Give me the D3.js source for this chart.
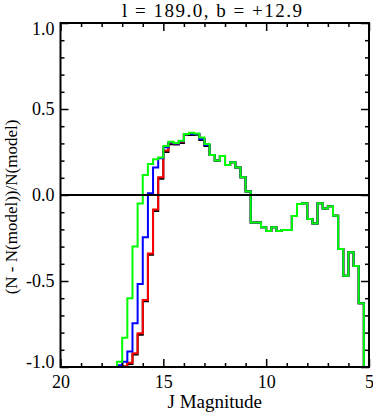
<!DOCTYPE html>
<html>
<head>
<meta charset="utf-8">
<script src="https://cdn.jsdelivr.net/npm/d3@7"></script>
<style>
    body { margin: 0; background: #fff; }
    svg { display: block; }
    text { font-family: "Liberation Serif", "DejaVu Serif", serif; fill: #000; }
</style>
</head>
<body>
<svg id="chart" width="373" height="414"></svg>
<script>
// bins are 0.25 mag wide, running from J = 20 down to J = 5
const bin_start = 20
const bin_width = 0.25
const bin_count = 60

// (N - N(model))/N(model), one value per bin, bright end last
const green_vals = [
    -1, -1, -1, -1, -1, -1, -1, -1, -1, -1, -1,
    -0.97, -0.83, -0.60, -0.30, -0.05,
    0.116, 0.18, 0.208, 0.218, 0.285, 0.31, 0.302, 0.316,
    0.355, 0.362, 0.358, 0.334, 0.296, 0.233, 0.200, 0.227,
    0.174, 0.19, 0.16, 0.103, 0.02,
    -0.16, -0.16, -0.188, -0.21, -0.188, -0.21, -0.203, -0.203,
    -0.122, -0.052, -0.048, -0.14, -0.165, -0.048, -0.078, -0.065, -0.12,
    -0.314, -0.47, -0.333, -0.413, -0.63, -1.0
]
const red_vals = [
    -1, -1, -1, -1, -1, -1, -1, -1, -1, -1, -1,
    -0.995, -0.995, -0.975, -0.92, -0.804,
    -0.61, -0.34, -0.085, 0.103, 0.258, 0.302, 0.30, 0.31,
    0.355, 0.355, 0.355, 0.326, 0.29, 0.233, 0.200, 0.227,
    0.174, 0.19, 0.16, 0.103, 0.02,
    -0.16, -0.16, -0.188, -0.21, -0.188, -0.21, -0.203, -0.203,
    -0.122, -0.052, -0.048, -0.14, -0.165, -0.048, -0.078, -0.065, -0.12,
    -0.314, -0.47, -0.333, -0.413, -0.63, -1.0
]
const black_vals = [
    -1, -1, -1, -1, -1, -1, -1, -1, -1, -1, -1,
    -1, -1, -0.983, -0.928, -0.812,
    -0.618, -0.348, -0.093, 0.095, 0.25, 0.295, 0.293, 0.303,
    0.35, 0.349, 0.35, 0.32, 0.285, 0.233, 0.200, 0.227,
    0.174, 0.19, 0.16, 0.103, 0.02,
    -0.16, -0.16, -0.188, -0.21, -0.188, -0.21, -0.203, -0.203,
    -0.122, -0.052, -0.048, -0.14, -0.165, -0.048, -0.078, -0.065, -0.12,
    -0.314, -0.47, -0.333, -0.413, -0.63, -1.0
]
const blue_vals = [
    -1, -1, -1, -1, -1, -1, -1, -1, -1, -1, -1,
    -0.99, -0.97, -0.91, -0.746, -0.517,
    -0.246, 0.01, 0.16, 0.213, 0.278, 0.305, 0.30, 0.313,
    0.355, 0.355, 0.355, 0.326, 0.29, 0.233, 0.200, 0.227,
    0.174, 0.19, 0.16, 0.103, 0.02,
    -0.16, -0.16, -0.188, -0.21, -0.188, -0.21, -0.203, -0.203,
    -0.122, -0.052, -0.048, -0.14, -0.165, -0.048, -0.078, -0.065, -0.12,
    -0.314, -0.47, -0.333, -0.413, -0.63, -1.0
]

// drawn in this order, last on top
const series = [
    {name: "black", color: "#000000", vals: black_vals},
    {name: "red",   color: "#ff0000", vals: red_vals},
    {name: "blue",  color: "#0000ff", vals: blue_vals},
    {name: "green", color: "#00ff00", vals: green_vals},
]

const title_text = "l = 189.0, b = +12.9"
const x_label = "J Magnitude"
const y_label = "(N - N(model))/N(model)"
const x_major = [20, 15, 10, 5]
const y_major = [-1.0, -0.5, 0.0, 0.5, 1.0]

// layout
const svg = d3.select("#chart")
const box = {left: 60.5, right: 369, top: 23, bottom: 367}

const x = d3.scaleLinear().domain([20, 5]).range([box.left, box.right])
const y = d3.scaleLinear().domain([-1, 1]).range([box.bottom, box.top])

const x_minor = d3.range(19, 5, -1).filter(v => !x_major.includes(v))
const y_minor = d3.range(-9, 10).map(v => v / 10).filter(v => Math.abs(v * 2 - Math.round(v * 2)) > 1e-6)

// bin edges (left edge of each bin plus the closing edge)
const edges = d3.range(bin_count + 1).map(i => bin_start - i * bin_width)

function step_points(vals) {
    let pts = vals.map((v, i) => [edges[i], v])
    pts.push([edges[bin_count], vals[bin_count - 1]])
    return pts
}

const line = d3.line()
    .x(d => x(d[0]))
    .y(d => y(d[1]))
    .curve(d3.curveStepAfter)

// histograms
const plot = svg.append("g").attr("class", "hists")
series.forEach(s => {
    plot.append("path")
        .attr("d", line(step_points(s.vals)))
        .attr("fill", "none")
        .attr("stroke", s.color)
        .attr("stroke-width", 2)
        .attr("stroke-linejoin", "miter")
})

// zero line
svg.append("line")
    .attr("x1", box.left).attr("x2", box.right)
    .attr("y1", y(0)).attr("y2", y(0))
    .attr("stroke", "#000").attr("stroke-width", 2)

// axes: ticks point inward on all four sides
function style_axis(g) {
    g.select(".domain").remove()
    g.selectAll(".tick line").attr("stroke", "#000").attr("stroke-width", 1.5)
    g.selectAll("text").attr("font-size", 18).attr("fill", "#000")
        .attr("font-family", "Liberation Serif, DejaVu Serif, serif")
}

const axes = [
    [d3.axisBottom(x).tickValues(x_major).tickFormat(d3.format("d")).tickSize(-8).tickPadding(8), `translate(0,${box.bottom})`],
    [d3.axisBottom(x).tickValues(x_minor).tickFormat("").tickSize(-4), `translate(0,${box.bottom})`],
    [d3.axisTop(x).tickValues(x_major).tickFormat("").tickSize(-8), `translate(0,${box.top})`],
    [d3.axisTop(x).tickValues(x_minor).tickFormat("").tickSize(-4), `translate(0,${box.top})`],
    [d3.axisLeft(y).tickValues(y_major).tickFormat(d3.format(".1f")).tickSize(-8).tickPadding(6), `translate(${box.left},0)`],
    [d3.axisLeft(y).tickValues(y_minor).tickFormat("").tickSize(-4), `translate(${box.left},0)`],
    [d3.axisRight(y).tickValues(y_major).tickFormat("").tickSize(-8), `translate(${box.right},0)`],
    [d3.axisRight(y).tickValues(y_minor).tickFormat("").tickSize(-4), `translate(${box.right},0)`],
]
axes.forEach(([ax, tr]) => {
    svg.append("g").attr("transform", tr).call(ax).call(style_axis)
})

// hyphen instead of unicode minus, like the original;
// end labels sit a little inside the frame
svg.selectAll(".tick text").each(function(d) {
    let t = d3.select(this)
    t.text(t.text().replace("\u2212", "-"))
    if (d === 1) t.attr("y", 6)
    if (d === -1) t.attr("y", -5)
})

// frame
svg.append("rect")
    .attr("x", box.left).attr("y", box.top)
    .attr("width", box.right - box.left).attr("height", box.bottom - box.top)
    .attr("fill", "none").attr("stroke", "#000").attr("stroke-width", 2)

// titles
svg.append("text")
    .attr("x", (box.left + box.right) / 2 - 2).attr("y", 17)
    .attr("text-anchor", "middle").attr("font-size", 19)
    .attr("letter-spacing", 1.5)
    .text(title_text)

svg.append("text")
    .attr("x", (box.left + box.right) / 2).attr("y", 408)
    .attr("text-anchor", "middle").attr("font-size", 19)
    .text(x_label)

svg.append("text")
    .attr("transform", `translate(17,207) rotate(-90)`)
    .attr("text-anchor", "middle").attr("font-size", 17)
    .text(y_label)
</script>
</body>
</html>
